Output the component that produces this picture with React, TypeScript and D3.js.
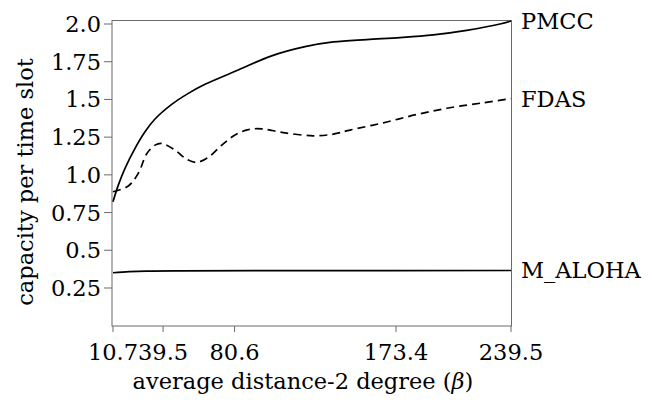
import * as d3 from 'd3';

// tick values
const xTicks = [10.7, 39.5, 80.6, 173.4, 239.5];
const yTicks = [0.25, 0.5, 0.75, 1.0, 1.25, 1.5, 1.75, 2.0];
const yTickLabels = ['0.25', '0.5', '0.75', '1.0', '1.25', '1.5', '1.75', '2.0'];

// series, [beta, capacity]
const pmcc: [number, number][] = [
  [10.7, 0.822], [13.75, 0.932], [17.6, 1.043], [23.35, 1.176], [29.1, 1.286],
  [34.85, 1.37], [44.45, 1.467], [54.0, 1.54], [63.6, 1.6], [82.7, 1.695],
  [101.9, 1.789], [121.1, 1.85], [137.35, 1.881], [156.55, 1.897], [175.7, 1.91],
  [194.8, 1.928], [214.0, 1.958], [233.2, 2.0], [239.5, 2.02],
];
const fdas: [number, number][] = [
  [10.7, 0.888], [19.5, 0.926], [25.2, 1.01], [30.1, 1.14], [34.85, 1.197],
  [38.7, 1.209], [46.35, 1.164], [53.1, 1.103], [58.8, 1.083], [65.5, 1.116],
  [73.2, 1.197], [80.85, 1.264], [88.5, 1.3], [96.2, 1.305], [108.6, 1.28],
  [125.85, 1.259], [137.35, 1.27], [147.0, 1.297], [166.1, 1.345], [185.3, 1.4],
  [204.4, 1.445], [223.6, 1.478], [239.5, 1.505],
];
const maloha: [number, number][] = [
  [10.7, 0.351], [20, 0.358], [30, 0.362], [50, 0.364], [120, 0.365], [239.5, 0.366],
];

const seriesNames = ['PMCC', 'FDAS', 'M_ALOHA'];

export default function App() {
  const width = 652;
  const height = 400;
  // frame edges
  const left = 112;
  const right = 511.5;
  const top = 20.5;
  const bottom = 326;

  const font = '"DejaVu Serif", serif';
  const fs = 22.5;
  const axisColor = '#6a6a6a';

  const x = d3.scaleLinear().domain([10.7, 239.5]).range([113, 511]);
  const y = d3.scaleLinear().domain([0, 2.0]).range([325.7, 24]);

  const line = d3
    .line<[number, number]>()
    .x(d => x(d[0]))
    .y(d => y(d[1]))
    .curve(d3.curveCatmullRom.alpha(0.5));

  const series = [pmcc, fdas, maloha];

  return (
    <svg
      width={width}
      height={height}
      style={{ position: 'absolute', left: 0, top: 0, background: '#fff' }}
    >
      {/* frame */}
      <rect
        x={left}
        y={top}
        width={right - left}
        height={bottom - top}
        fill="none"
        stroke={axisColor}
        strokeWidth={1}
      />

      {/* y axis ticks */}
      {yTicks.map((t, i) => (
        <g key={t}>
          <line x1={left - 8} x2={left} y1={y(t)} y2={y(t)} stroke={axisColor} />
          <text
            x={101}
            y={y(t)}
            textAnchor="end"
            dominantBaseline="central"
            fontFamily={font}
            fontSize={fs}
          >
            {yTickLabels[i]}
          </text>
        </g>
      ))}

      {/* x axis ticks */}
      {xTicks.map(t => (
        <g key={t}>
          <line x1={x(t)} x2={x(t)} y1={bottom} y2={bottom + 6} stroke={axisColor} />
          <text x={x(t)} y={360} textAnchor="middle" fontFamily={font} fontSize={fs}>
            {t}
          </text>
        </g>
      ))}

      {/* axis titles */}
      <text x={303} y={389} textAnchor="middle" fontFamily={font} fontSize={fs}>
        average distance-2 degree (<tspan fontStyle="italic">β</tspan>)
      </text>
      <text
        transform={`translate(33, 182) rotate(-90)`}
        textAnchor="middle"
        fontFamily={font}
        fontSize={fs}
      >
        capacity per time slot
      </text>

      {/* curves */}
      {series.map((s, i) => (
        <path
          key={seriesNames[i]}
          d={line(s) || ''}
          fill="none"
          stroke="#000"
          strokeWidth={1.7}
          strokeDasharray={seriesNames[i] === 'FDAS' ? '8,5' : undefined}
        />
      ))}

      {/* end labels */}
      {series.map((s, i) => (
        <text
          key={'l' + seriesNames[i]}
          x={521}
          y={y(s[s.length - 1][1])}
          dominantBaseline="central"
          fontFamily={font}
          fontSize={fs}
        >
          {seriesNames[i]}
        </text>
      ))}
    </svg>
  );
}
